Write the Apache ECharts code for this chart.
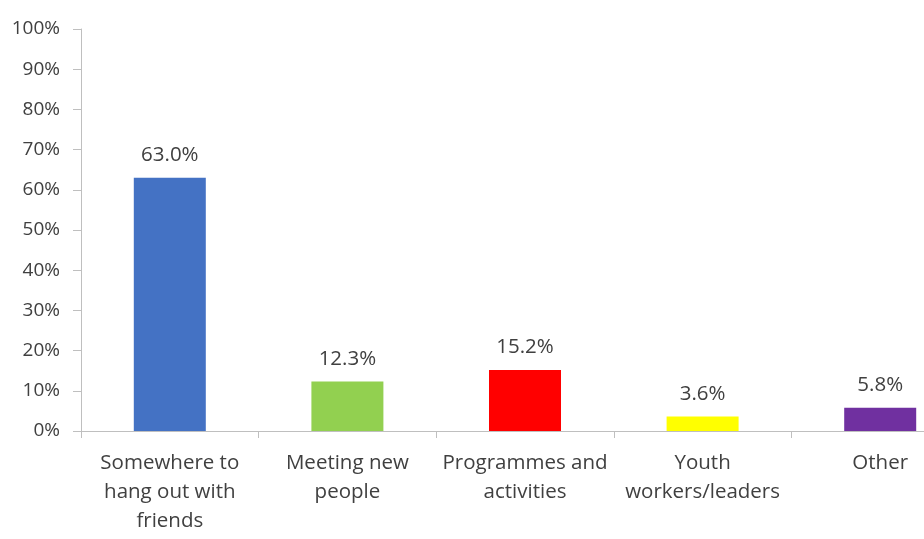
<!DOCTYPE html>
<html><head><meta charset="utf-8">
<script src="https://cdn.jsdelivr.net/npm/echarts@6/dist/echarts.min.js"></script>
<style>html,body{margin:0;padding:0;background:#fff;overflow:hidden}#c{width:970px;height:539px}</style>
</head><body><div id="c"></div>
<script>
const categories = ["Somewhere to\nhang out with\nfriends", "Meeting new\npeople", "Programmes and\nactivities", "Youth\nworkers/leaders", "Other"];
const values = [63.0, 12.3, 15.2, 3.6, 5.8];
const colors = ["#4472C4", "#92D050", "#FF0000", "#FFFF00", "#7030A0"];
const yTicks = [0, 10, 20, 30, 40, 50, 60, 70, 80, 90, 100];

const font = "Open Sans";
const txt = "#404040";
const chart = echarts.init(document.getElementById('c'));
chart.setOption({
  animation: false,
  grid: { left: 81, top: 29, bottom: 108, right: 1, containLabel: false },
  xAxis: {
    type: 'category', data: categories,
    axisLine: { lineStyle: { color: '#BFBFBF', width: 1 } },
    axisTick: { show: true, length: 7, lineStyle: { color: '#BFBFBF' } },
    axisLabel: { color: txt, fontFamily: font, fontSize: 20.5, lineHeight: 29, margin: 18, interval: 0 }
  },
  yAxis: {
    type: 'value', min: 0, max: 100, interval: 10,
    axisLine: { show: true, lineStyle: { color: '#BFBFBF', width: 1 } },
    axisTick: { show: true, length: 8, lineStyle: { color: '#BFBFBF' } },
    splitLine: { show: false },
    axisLabel: { color: txt, fontFamily: font, fontSize: 19, margin: 21,
      formatter: v => yTicks.includes(v) ? v + '%' : '' }
  },
  series: [{
    type: 'bar', barWidth: 72,
    data: values.map((v, i) => ({ value: v, itemStyle: { color: colors[i] } })),
    label: { show: true, position: 'top', distance: 12, color: txt, fontFamily: font, fontSize: 20.5,
      formatter: p => p.value.toFixed(1) + '%' }
  }]
});
</script></body></html>
